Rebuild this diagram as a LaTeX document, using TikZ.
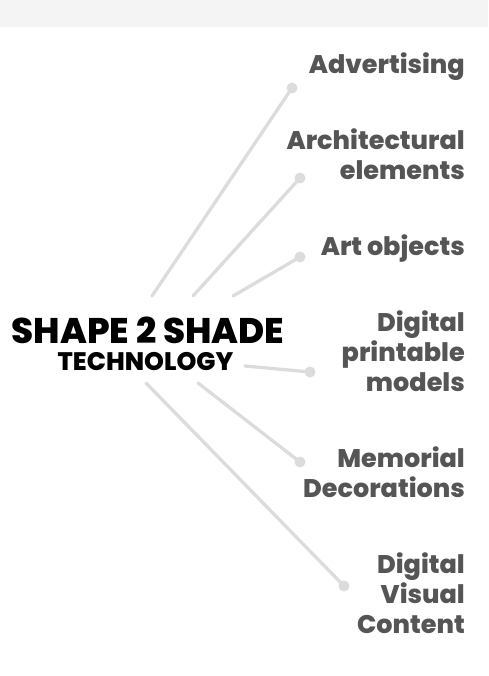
\documentclass[tikz,border=0pt]{standalone}
\usepackage{fontspec}
\setmainfont{Poppins}[BoldFont = {Poppins ExtraBold}]
\usepackage{tikz}
\usetikzlibrary{positioning}

\definecolor{bandgray}{HTML}{F4F4F4}
\definecolor{spokegray}{HTML}{DCDCDC}
\definecolor{fieldgray}{HTML}{555555}

\begin{document}
\begin{tikzpicture} [x = 1pt, y = -1pt,
		spoke/.style = {draw = spokegray, line width = 3.3pt, line cap = round},
		dot/.style = {circle, fill = spokegray, minimum size = 11pt, inner sep = 0pt},
		field/.style = {fieldgray, anchor = base east, align = right, inner sep = 0pt,
			font = \fontsize{25.5}{30}\selectfont\bfseries}]
		% Frame and top band
		\useasboundingbox (0,0) rectangle (488,676);
		\fill [bandgray] (0,0) rectangle (488,27.5);

		% Centre title
		\node (title) [anchor = base, inner sep = 0pt, font = \fontsize{35.6}{40}\selectfont\bfseries]
		at (148,343) {SHAPE 2 SHADE};
		\node (sub) [anchor = base, inner sep = 0pt, font = \fontsize{25.3}{28}\selectfont\bfseries]
		at (145.5,370) {TECHNOLOGY};

		% Start points of the spokes
		\coordinate (s1) at (152,296);
		\coordinate (s2) at (193,296);
		\coordinate (s3) at (233,296);
		\coordinate (s4) at (245,366);
		\coordinate (s5) at (198,383);
		\coordinate (s6) at (146,383);

		% End dots
		\node (d1) [dot] at (292,88) {};
		\node (d2) [dot] at (300,178) {};
		\node (d3) [dot] at (300,257) {};
		\node (d4) [dot] at (310,372) {};
		\node (d5) [dot] at (300,462) {};
		\node (d6) [dot] at (344,586) {};

		% Fields of use (base = last line)
		\node (advert) [field] at (465,74) {Advertising};
		\node (archi) [field] at (465,180) {Architectural\\elements};
		\node (art) [field] at (465,255) {Art objects};
		\node (print) [field] at (465,391) {Digital\\printable\\models};
		\node (memo) [field] at (465,497) {Memorial\\Decorations};
		\node (visual) [field] at (465,633) {Digital\\Visual\\Content};

		% Draw spokes
		\path [spoke]
		(s1) edge (d1.center)
		(s2) edge (d2.center)
		(s3) edge (d3.center)
		(s4) edge (d4.center)
		(s5) edge (d5.center)
		(s6) edge (d6.center);
	\end{tikzpicture}
\end{document}
